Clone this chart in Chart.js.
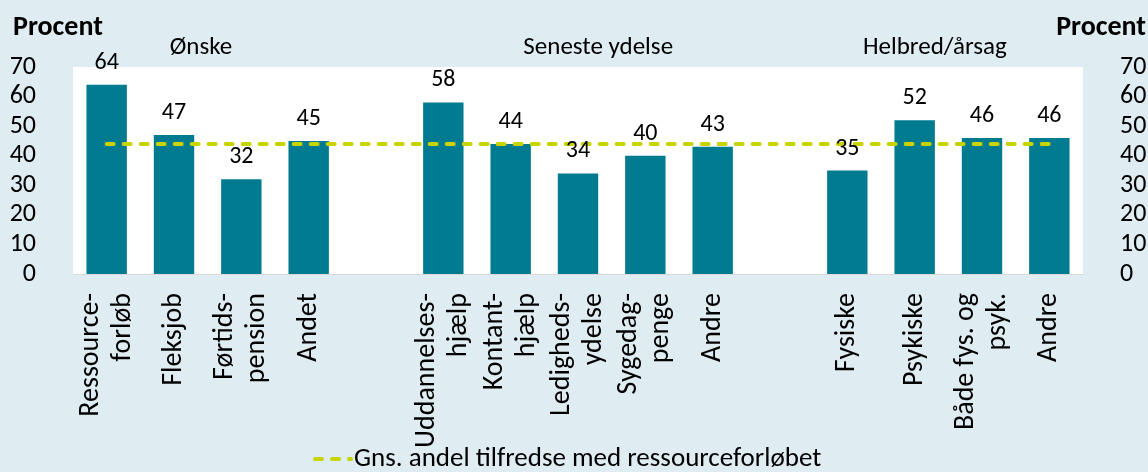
<!DOCTYPE html>
<html>
<head>
<meta charset="utf-8">
<script src="https://cdn.jsdelivr.net/npm/chart.js@4"></script>
<style>
  body { margin: 0; background: #dfecf1; }
  #wrap { width: 1148px; height: 472px; }
</style>
</head>
<body>
<div id="wrap"><canvas id="myChart" width="1148" height="472"></canvas></div>
<script>
const categories = [
    ['Ressource-', 'forløb'], 'Fleksjob', ['Førtids-', 'pension'], 'Andet', '',
    ['Uddannelses-', 'hjælp'], ['Kontant-', 'hjælp'], ['Ledigheds-', 'ydelse'], ['Sygedag-', 'penge'], 'Andre', '',
    'Fysiske', 'Psykiske', ['Både fys. og', 'psyk.'], 'Andre'
];
const satisfied = [64, 47, 32, 45, null, 58, 44, 34, 40, 43, null, 35, 52, 46, 46];
const average = [44, 44, 44, 44, 44, 44, 44, 44, 44, 44, 44, 44, 44, 44, 44];
const groups = ['Ønske', 'Seneste ydelse', 'Helbred/årsag'];
const groupPos = [1.4, 7.3, 12.3];
const yTicks = [0, 10, 20, 30, 40, 50, 60, 70];

const FONT = 'Carlito, Lato, "Noto Sans", sans-serif';
const teal = '#007b8f';
const lime = '#c8d400';

const decor = {
    id: 'decor',
    beforeDraw(chart) {
        const c = chart.ctx, a = chart.chartArea;
        c.save();
        c.fillStyle = '#dfecf1';
        c.fillRect(0, 0, chart.width, chart.height);
        c.fillStyle = '#ffffff';
        c.fillRect(a.left, a.top, a.right - a.left, a.bottom - a.top);
        c.restore();
    },
    afterDatasetsDraw(chart) {
        const c = chart.ctx;
        const meta = chart.getDatasetMeta(0);
        const xs = chart.scales.x;
        c.save();
        c.fillStyle = '#000';
        c.textAlign = 'center';
        c.textBaseline = 'middle';
        c.font = '24px ' + FONT;
        meta.data.forEach((bar, i) => {
            if (satisfied[i] == null) return;
            c.fillText(String(satisfied[i]), bar.x, bar.y - 22);
        });
        c.font = '25px ' + FONT;
        groups.forEach((g, i) => {
            c.fillText(g, xs.getPixelForValue(groupPos[i]), 48);
        });
        // category labels, rotated, lines centred on the tick
        c.font = '28px ' + FONT;
        c.textAlign = 'right';
        const lh = 32;
        categories.forEach((lab, i) => {
            const lines = Array.isArray(lab) ? lab : [lab];
            const x0 = xs.getPixelForValue(i);
            lines.forEach((t, j) => {
                const off = (j - (lines.length - 1) / 2) * lh;
                c.save();
                c.translate(x0 + off, xs.top + 19);
                c.rotate(-Math.PI / 2);
                c.fillText(t, 0, 0);
                c.restore();
            });
        });
        c.font = 'bold 28px ' + FONT;
        c.textAlign = 'left';
        c.fillText('Procent', 13, 28);
        c.textAlign = 'right';
        c.fillText('Procent', 1146, 28);

        // legend
        const ds = chart.data.datasets[1];
        c.strokeStyle = ds.borderColor;
        c.lineWidth = 4;
        c.lineCap = 'round';
        c.setLineDash([7, 10]);
        c.beginPath();
        c.moveTo(315, 459);
        c.lineTo(351, 459);
        c.stroke();
        c.setLineDash([]);
        c.font = '27px ' + FONT;
        c.textAlign = 'left';
        c.fillText(ds.label, 354, 459);
        c.restore();
    }
};

new Chart(document.getElementById('myChart'), {
    data: {
        labels: categories,
        datasets: [{
            type: 'bar',
            label: 'Tilfredse',
            data: satisfied,
            backgroundColor: teal,
            barPercentage: 0.6,
            categoryPercentage: 1,
            yAxisID: 'y',
            order: 2
        }, {
            type: 'line',
            label: 'Gns. andel tilfredse med ressourceforløbet',
            data: average,
            borderColor: lime,
            borderWidth: 4,
            borderDash: [7, 10],
            borderCapStyle: 'round',
            pointRadius: 0,
            yAxisID: 'y',
            order: 1
        }]
    },
    options: {
        responsive: false,
        animation: false,
        layout: { padding: { top: 67, left: 0, right: 0, bottom: 0 } },
        plugins: {
            tooltip: { enabled: false },
            legend: { display: false }
        },
        scales: {
            x: {
                grid: { display: false },
                border: { display: true, color: '#d9d9d9', width: 1 },
                ticks: { display: false },
                afterFit(s) { s.height = 198; }
            },
            y: {
                position: 'left',
                min: 0, max: 70,
                afterBuildTicks(s) { s.ticks = yTicks.map(v => ({ value: v })); },
                grid: { display: false },
                border: { display: false },
                ticks: { autoSkip: false, padding: 29, color: '#000', font: { family: FONT, size: 26 } },
                afterFit(s) { s.width = 73; }
            },
            y2: {
                position: 'right',
                min: 0, max: 70,
                afterBuildTicks(s) { s.ticks = yTicks.map(v => ({ value: v })); },
                grid: { display: false },
                border: { display: false },
                ticks: { autoSkip: false, padding: 29, color: '#000', font: { family: FONT, size: 26 } },
                afterFit(s) { s.width = 65; }
            }
        }
    },
    plugins: [decor]
});
</script>
</body>
</html>
